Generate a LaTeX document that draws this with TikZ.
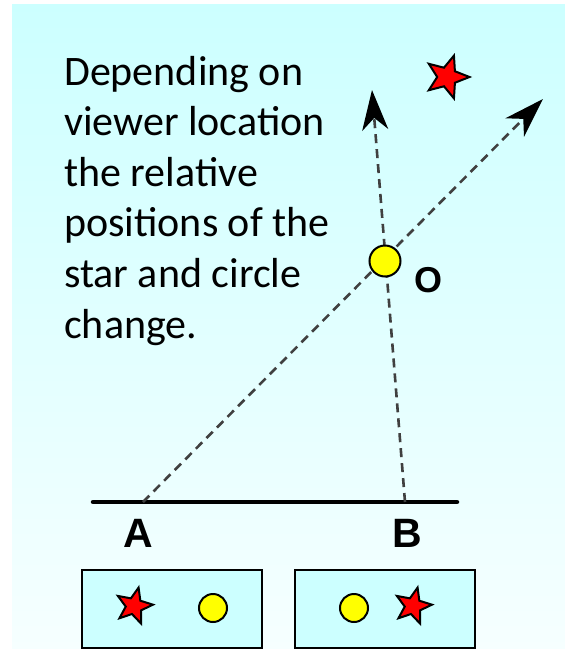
\documentclass[tikz,border=0pt]{standalone}
\usepackage{fontspec}
\setmainfont{Carlito}
\newfontfamily\lblfont{Liberation Sans}
\usetikzlibrary{shapes.geometric,arrows.meta}
\definecolor{bgtop}{HTML}{CCFFFF}
\definecolor{bgbot}{HTML}{F6FFFF}
\definecolor{boxfill}{HTML}{CCFFFF}
\definecolor{dashgray}{HTML}{404040}
\definecolor{starred}{HTML}{FF0000}
\definecolor{sunyellow}{HTML}{FFFF00}
\tikzset{
  bigstar/.style={star, star points=5, star point ratio=2.3, draw=black, line width=2pt, fill=starred, inner sep=0pt, minimum size=45pt, shape border rotate=-18},
  smallstar/.style={star, star points=5, star point ratio=2.3, draw=black, line width=2pt, fill=starred, inner sep=0pt, minimum size=38pt, shape border rotate=-14},
  dot/.style={circle, draw=black, line width=2pt, fill=sunyellow, inner sep=0pt},
  sight/.style={dashgray, line width=2.6pt, dash pattern=on 9pt off 6pt, -{Stealth[length=40pt 0, width=26pt 0, inset=12pt 0, black]}},
  viewbox/.style={draw=black, line width=2.5pt, fill=boxfill},
  lbl/.style={font=\lblfont\bfseries\fontsize{41}{41}\selectfont, inner sep=0pt}
}
\begin{document}
\begin{tikzpicture}[x=1pt, y=-1pt]
\useasboundingbox (0,0) rectangle (565,649);
\fill[white] (0,0) rectangle (565,649);
\shade[top color=bgtop, bottom color=bgbot] (12,4) rectangle (565,649);

% text
\node[anchor=base west, inner sep=0pt, align=left, font=\fontsize{42}{50.6}\selectfont] (txt) at (64,338)
  {Depending on\\viewer location\\the relative\\positions of the\\star and circle\\change.};

% viewer line
\coordinate (A) at (143,502);
\coordinate (B) at (405,502);
\coordinate (tipA) at (543,99);
\coordinate (tipB) at (372,90);
\draw[line width=4.5pt, line cap=round] (93,502) coordinate (L1) -- (457,502) coordinate (L2);

% sight lines
\draw[sight] (A) -- (tipA);
\draw[sight] (B) -- (tipB);

% object O and star
\node[dot, minimum size=31pt] (O) at (385,261) {};
\node[lbl, font=\lblfont\bfseries\fontsize{36}{36}\selectfont, anchor=center] (Olbl) at (428,280) {O};
\node[bigstar] (S) at (447,77) {};

% labels A and B
\node[lbl] (Albl) at (138,533) {A};
\node[lbl] (Blbl) at (407,533) {B};

% view boxes
\draw[viewbox] (82,570) rectangle (262,648);
\draw[viewbox] (295,570) rectangle (475,648);
\node[smallstar] (s1) at (134,606) {};
\node[dot, minimum size=28pt] (c1) at (213,608) {};
\node[dot, minimum size=28pt] (c2) at (354,608) {};
\node[smallstar] (s2) at (413,606) {};
\end{tikzpicture}
\end{document}
